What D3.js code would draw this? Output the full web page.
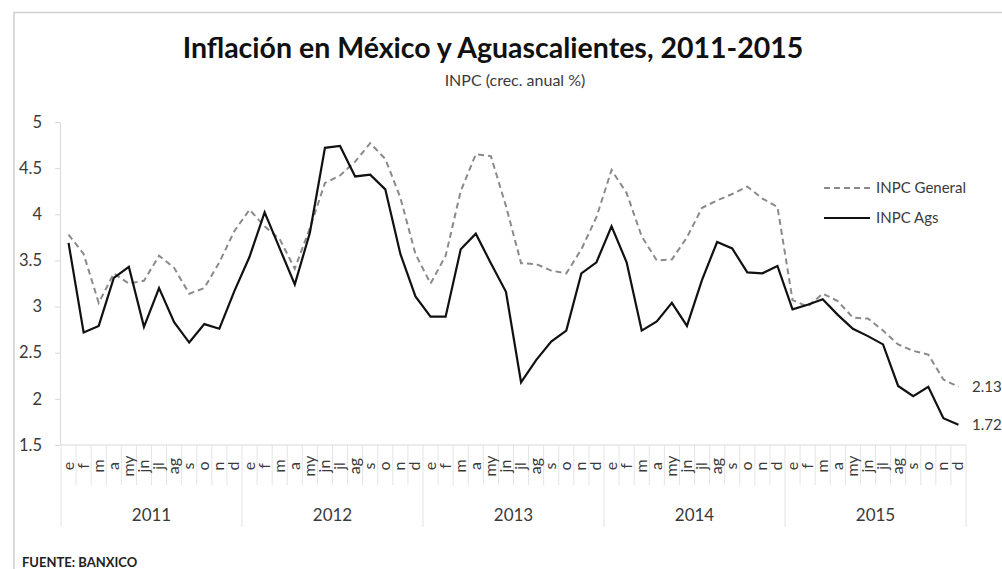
<!DOCTYPE html>
<html>
<head>
<meta charset="utf-8">
<script src="https://cdn.jsdelivr.net/npm/d3@7"></script>
<style>
  body { margin: 0; background: #fff; }
  svg { display: block; font-family: Lato, "Open Sans", sans-serif; }
</style>
</head>
<body>
<svg id="chart" width="1002" height="569"></svg>
<script>
// data
var years = ["2011", "2012", "2013", "2014", "2015"];
var months = ["e", "f", "m", "a", "my", "jn", "jl", "ag", "s", "o", "n", "d"];
var general = [3.78, 3.57, 3.04, 3.36, 3.25, 3.28, 3.55, 3.42, 3.14, 3.20, 3.48, 3.82,
               4.05, 3.87, 3.73, 3.41, 3.85, 4.34, 4.42, 4.57, 4.77, 4.60, 4.18, 3.57,
               3.25, 3.55, 4.25, 4.65, 4.63, 4.09, 3.47, 3.46, 3.39, 3.36, 3.62, 3.97,
               4.48, 4.23, 3.76, 3.50, 3.51, 3.75, 4.07, 4.15, 4.22, 4.30, 4.17, 4.08,
               3.07, 3.00, 3.14, 3.06, 2.88, 2.87, 2.74, 2.59, 2.52, 2.48, 2.21, 2.13];
var ags = [3.69, 2.72, 2.79, 3.31, 3.43, 2.78, 3.20, 2.83, 2.61, 2.81, 2.76, 3.17,
           3.54, 4.02, 3.63, 3.24, 3.80, 4.72, 4.74, 4.41, 4.43, 4.27, 3.57, 3.11,
           2.89, 2.89, 3.62, 3.79, 3.47, 3.16, 2.18, 2.42, 2.62, 2.74, 3.36, 3.48,
           3.87, 3.48, 2.74, 2.84, 3.04, 2.79, 3.29, 3.70, 3.63, 3.37, 3.36, 3.44,
           2.97, 3.02, 3.08, 2.91, 2.76, 2.68, 2.59, 2.14, 2.03, 2.13, 1.79, 1.72];
var yTicks = [1.5, 2, 2.5, 3, 3.5, 4, 4.5, 5];

var plotLeft = 61, plotRight = 966, plotTop = 122, plotBottom = 445;
var monthRow = 485, yearRow = 527;

var svg = d3.select('#chart');

// frame
svg.append('path')
  .attr('d', 'M14,569 L14,12.5 L1002,12.5')
  .attr('fill', 'none')
  .attr('stroke', '#d0d0d0')
  .attr('stroke-width', 1.5);

// scales
var idx = d3.range(general.length);
var x = d3.scaleBand().domain(idx).range([plotLeft, plotRight]).padding(0);
var y = d3.scaleLinear().domain([1.5, 5]).range([plotBottom, plotTop]);
var yearX = d3.scaleBand().domain(years).range([plotLeft, plotRight]);

// y axis
var yAxis = d3.axisLeft(y)
  .tickValues(yTicks)
  .tickSize(5)
  .tickPadding(13)
  .tickFormat(function(d){ return String(d); });
var gy = svg.append('g')
  .attr('transform', 'translate(' + [plotLeft - 1, 0] + ')')
  .call(yAxis);
gy.select('.domain').attr('stroke', '#d9d9d9');
gy.selectAll('.tick line').attr('stroke', '#d9d9d9');
gy.selectAll('.tick text')
  .attr('fill', '#3a3a3a')
  .style('font-size', '16.5px')
  .style('font-family', 'Lato, sans-serif');

// x axis line
svg.append('line')
  .attr('x1', plotLeft).attr('x2', plotRight)
  .attr('y1', plotBottom).attr('y2', plotBottom)
  .attr('stroke', '#d9d9d9');

// month separators
svg.append('g').selectAll('line')
  .data(idx.concat([idx.length]))
  .enter().append('line')
  .attr('x1', function(i){ return i < idx.length ? x(i) : plotRight; })
  .attr('x2', function(i){ return i < idx.length ? x(i) : plotRight; })
  .attr('y1', plotBottom)
  .attr('y2', function(i){ return i % 12 === 0 ? yearRow : monthRow; })
  .attr('stroke', '#e4e4e4');

// month labels
svg.append('g').selectAll('text')
  .data(idx)
  .enter().append('text')
  .attr('transform', function(i){
    return 'translate(' + [x(i) + x.bandwidth() / 2 + 5, 466] + ') rotate(-90)'; })
  .attr('text-anchor', 'middle')
  .attr('fill', '#3a3a3a')
  .style('font-size', '16px')
  .text(function(i){ return months[i % 12]; });

// year labels
svg.append('g').selectAll('text')
  .data(years)
  .enter().append('text')
  .attr('x', function(d){ return yearX(d) + yearX.bandwidth() / 2; })
  .attr('y', 521)
  .attr('text-anchor', 'middle')
  .attr('fill', '#3a3a3a')
  .style('font-size', '17px')
  .text(function(d){ return d; });

// lines
var line = d3.line()
  .x(function(d, i){ return x(i) + x.bandwidth() / 2; })
  .y(function(d){ return y(d); });

svg.append('path')
  .datum(general)
  .attr('d', line)
  .attr('fill', 'none')
  .attr('stroke', '#8a8a8a')
  .attr('stroke-width', 2)
  .attr('stroke-dasharray', '6,4');

svg.append('path')
  .datum(ags)
  .attr('d', line)
  .attr('fill', 'none')
  .attr('stroke', '#111')
  .attr('stroke-width', 2.2)
  .attr('stroke-linejoin', 'miter');

// end labels
var last = idx.length - 1;
[[general, '2.13'], [ags, '1.72']].forEach(function(s){
  svg.append('text')
    .attr('x', 972)
    .attr('y', y(s[0][last]) + 5)
    .attr('fill', '#3a3a3a')
    .style('font-size', '15px')
    .text(s[1]);
});

// legend
var legend = svg.append('g');
legend.append('line')
  .attr('x1', 824).attr('x2', 870).attr('y1', 188).attr('y2', 188)
  .attr('stroke', '#8a8a8a').attr('stroke-width', 2).attr('stroke-dasharray', '6,4');
legend.append('text')
  .attr('x', 876).attr('y', 193)
  .attr('fill', '#3a3a3a').style('font-size', '15px')
  .text('INPC General');
legend.append('line')
  .attr('x1', 824).attr('x2', 870).attr('y1', 218).attr('y2', 218)
  .attr('stroke', '#111').attr('stroke-width', 2.2);
legend.append('text')
  .attr('x', 876).attr('y', 223)
  .attr('fill', '#3a3a3a').style('font-size', '15px')
  .text('INPC Ags');

// titles
svg.append('text')
  .attr('x', 493).attr('y', 58)
  .attr('text-anchor', 'middle')
  .attr('fill', '#111')
  .style('font-size', '28.5px')
  .style('font-weight', 'bold')
  .text('Inflación en México y Aguascalientes, 2011-2015');

svg.append('text')
  .attr('x', 515).attr('y', 86)
  .attr('text-anchor', 'middle')
  .attr('fill', '#3a3a3a')
  .style('font-size', '16px')
  .text('INPC (crec. anual %)');

svg.append('text')
  .attr('x', 22).attr('y', 567)
  .attr('fill', '#222')
  .style('font-size', '13px')
  .style('font-weight', 'bold')
  .text('FUENTE: BANXICO');
</script>
</body>
</html>
